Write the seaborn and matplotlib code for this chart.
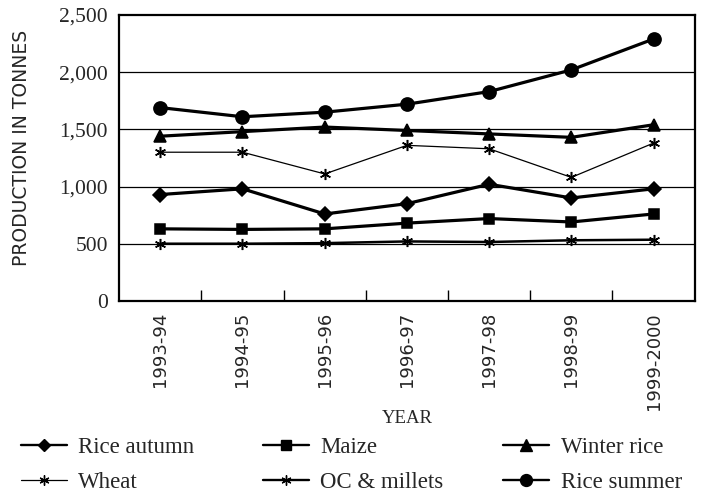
import matplotlib
matplotlib.use("Agg")
import matplotlib.pyplot as plt
import matplotlib.ticker as mticker
from matplotlib.lines import Line2D
import seaborn as sns

years = ["1993-94", "1994-95", "1995-96", "1996-97", "1997-98", "1998-99", "1999-2000"]
rice_autumn = [930, 980, 760, 850, 1020, 900, 980]
maize = [630, 625, 630, 680, 720, 690, 760]
winter_rice = [1440, 1480, 1520, 1490, 1460, 1430, 1540]
wheat = [1300, 1300, 1110, 1360, 1330, 1080, 1380]
oc_millets = [500, 500, 505, 520, 515, 530, 535]
rice_summer = [1690, 1610, 1650, 1720, 1830, 2020, 2290]

star = (6, 2, 0)
# name, values, marker, marker size, line width
series = [
    ("Rice autumn", rice_autumn, "D", 7, 2.3),
    ("Maize", maize, "s", 7.5, 2.3),
    ("Winter rice", winter_rice, "^", 9, 2.3),
    ("Wheat", wheat, star, 8, 0.9),
    ("OC & millets", oc_millets, star, 8, 1.8),
    ("Rice summer", rice_summer, "o", 9.5, 2.3),
]

sns.set_theme(style="white")
plt.rcParams["font.family"] = ["Liberation Serif", "DejaVu Serif"]

fig = plt.figure(figsize=(7.01, 4.99), dpi=100)
ax = fig.add_axes([0.170, 0.397, 0.821, 0.573])

x = list(range(len(years)))
handles = {}
for name, vals, mk, ms, lw in series:
    sns.lineplot(x=x, y=vals, ax=ax, color="black", marker=mk, markersize=ms,
                 markeredgecolor="black", markeredgewidth=1.1, linewidth=lw)
    handles[name] = Line2D([], [], color="black", marker=mk, markersize=ms * 0.9,
                           markeredgecolor="black", linewidth=min(lw, 1.7))

ax.set_xlim(-0.5, 6.5)
ax.set_ylim(0, 2500)
ax.set_yticks([0, 500, 1000, 1500, 2000, 2500])
ax.yaxis.set_major_formatter(mticker.FuncFormatter(lambda v, p: f"{int(v):,}"))
for yv in [500, 1000, 1500, 2000]:
    ax.axhline(yv, color="black", lw=0.9, zorder=0)

ax.set_xticks(x)
ax.set_xticklabels(years, rotation=90, fontsize=13, family="DejaVu Sans")
ax.set_xticks([i + 0.5 for i in range(6)], minor=True)
ax.tick_params(axis="x", which="major", length=0, pad=8)
ax.tick_params(axis="x", which="minor", bottom=True, direction="in", length=8, width=1, color="black")
ax.tick_params(axis="y", length=0, labelsize=15.5, pad=8)

for s in ax.spines.values():
    s.set_color("black")
    s.set_linewidth(1.6)

ax.set_ylabel("PRODUCTION IN TONNES", fontsize=13.5, family="DejaVu Sans", va="center")
ax.yaxis.set_label_coords(-0.170, 0.535)
ax.set_xlabel("YEAR", fontsize=13.5, va="center")
ax.xaxis.set_label_coords(0.5, -0.41)

# legend: three columns placed separately, two rows each
columns = [["Rice autumn", "Wheat"], ["Maize", "OC & millets"], ["Winter rice", "Rice summer"]]
col_x = [0.030, 0.375, 0.718]
for names, cx in zip(columns, col_x):
    fig.legend([handles[n] for n in names], names, loc="upper left",
               bbox_to_anchor=(cx, 0.124), ncol=1, frameon=False, fontsize=16.5,
               handlelength=2.0, labelspacing=0.62, handletextpad=0.5,
               borderaxespad=0, borderpad=0)

fig.savefig("out.png", dpi=100)
